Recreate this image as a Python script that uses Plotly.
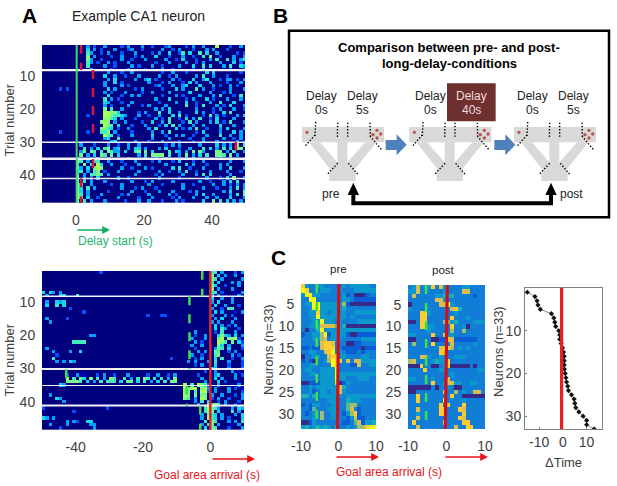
import plotly.graph_objects as go

# ---------- data ----------
trial_ticks = [10, 20, 30, 40]
a1_ticks = [0, 20, 40]
a2_ticks = [-40, -20, 0]
neuron_ticks = [5, 10, 15, 20, 25, 30]
c_x_ticks = [-10, 0, 10]
c3_y_ticks = [10, 20, 30]

# Panel A top, one row per trial, t = 0..49, level per 1 s bin ('.' = none)
a1_rows = [
"...3.2..3....2.3...3..2...23....2.3..3...7...2..3.",
"...4.3.2...3...23..2.....3..2.3...2...3.3...2.....",
"...53..2.3...2...3....2.3..4..25.4..5.4..3.....2.2",
"...6.3....2..3...2.3...4...2...3..2..5.6..2...3..3",
"...63..2.....3..2...3.....3..2.4...2...3.5..5.3.35",
"...53.2..3.2...3.......2...3....3..2.3....3...4.2.",
"...5....3..2....3.2...3..2....3...4..5.4...3.5..43",
"....3.....2....3....2....3..2.....2..3.......2...2",
".........3...2..3........2..3...2.....4.4.......2.",
"........4..3..2...3.....3..2.3.....3.5..3...2.....",
".........3.4.....3..34.2....3.2...4..35...2.33.2.3",
"........3..4.2.......3...2.3...2.4.3...3....2...3.",
"........3....3.2.......23...3..34...4...3.2..3.2..",
".........4.3.....2.3.....2...4.3...5.3..2....3...3",
"........3.2...3....2..3....3.....4.....3...2.3....",
".........4...2..3.3......2...3.2....3...3.4...2.5.",
"........5.3.2..........3...4....2.3...4.2...3...3.",
"........43...2..3.......2....3..4..2...3..5...4...",
"........3.2....3...2.3....3.....5..2.5...3.2.4...3",
"........6.5..3.........3.3.4.......3....2.3...3..2",
"........77664.....2.3...5..4..3....4.3..2..4.5...",
"...2....7765543...3..2..3...4.5.2....2.5.3.2...3.4",
"........6754.3...2.....3.2.5..2.4.3.5..2.4....3..",
".......676.3..3....2..4..3.5...2.5.3...3.4.2.5...3",
"........765.4...2...3...2.4.5.3...3..3....4...3..",
".......6654.2..3.....3.5.....4.2.3.5..2...3.4....3",
"...2...556.3....2.....3..3.5.......2.4....3...4.3.",
"........755.2...3.....4...2..3.3..2...3...5..3..3.",
"........34..5.........3....3.....2...3.....3..2.3.",
"..........34.....3...2...3....2...2..3...3.....3.2",
".3...2...3..2..3..3.......2.3.3.....3....4.3.3.6.5",
"..5.3.4.56.34..3.44.3...3.4...2..3...5.4.3.5.4.66.",
".36.65.5.6533.4..56.6.4....5.43.3.6.63...66.3.5..3",
".6.3.4.65.6.4.....3.5.6666.5..3.6.3.4.5..665.6.3..",
"3...2.3..3.....3....3..2..3.....2.3.......2..3...2",
"65.3.55..3...2...3....2.3...2.4...2..3.......3...3",
"5.6.5.74..3...2...3.......3.....4.3...2...3.3.....",
"63.4.676.....3..2...3.2.....4.5..2...3....3..4...3",
"45.3.56.2...3.....3.....3..2..3.5..2...3....3...2.",
"5.3.5565.3.......3.....2.3.....3...3.5.4.....3....",
"6.3.3.4.....3..2........3.....2.......3...2.4.6..3",
"6.5.3...3.......3...2.3.....3.......3..2...3.4.5..",
"65..3.....2..3.......3...2.....3..2.....3..3.2.3.3",
"64.5.3.......3...2.3...2.......3.....3...2...3.5.3",
"74.3.....2......3...2...3...3....2.3.......3.4...6",
"75.3...3.....2.3.....3.....3.2.....3.4..3....3.5.6",
"75.4..2.....3.....2...3.....2.3...3...3..3...4...3",
"6.5.3...3.....2...3..3...2...3.2.....4..6.5.4.3.3.",
]
# spikes before delay start: (trial, t, level)
a1_pre = [(14, -5, 2), (14, -3, 2), (27, -5, 2)]

# Panel A bottom, t = -8..9 per trial
a2_right = [
"........55.3...2.3", "........6.4.3..3..", "........65.3.....3", "........5.4...3.3.",
"........64..2...3.", "........6.3...3...", "........55.2...1.3", "........4.3.1...3.",
"........4..3..3...", "........3.4...3...", ".........4..3...2.", "........3..2.55...",
".........4.3...1.3", "........3...3.2...", ".........3.4...3..", "........3.3...3...",
".........4.3.2.3..", ".........4.53...2.", "...3.....2.5...3..", "...2..3...4643.4.3",
"..3...3...67.6672.", "...3.2....765.6.42", "..3..3....64.3...3", "...2.....365.4...2",
"....3.3..65..2.3..", "..3..2...56...3.2.", "...2.3...4.5..2..3", ".3.3...3.5...3...2",
"...2.3...4...2...2", "........43...3...3", "......2..3....3.1.", "....2....34....3.2",
".....3...4.3...3..", "......3...4.2...1.", "7.5.7652..3...1.3.", "7677.673.3...3.2.1",
"66.5.772.3...3...2", "76.6.66.3..3...2.3", "65.3.76.2.3..2...3", "...3.5.4..2.3...2.",
"....3..6575.3..2..", "......57653...3.43", "......566.4...5.3.", ".....3.654.3...3.4",
".....3.754.3.2...4", "......5.65...3.3.5", ".....3.56.3...1.3.", "......4.65...2...3",
]
# Panel A bottom, rows 32-34: t = -50..-9
a2_burst = {
 32: ".......2..3.1...2.3..2...3.....2..3..2.3.",
 33: ".......7.5.64.6.5.3.65..5.3.5.65.5.5.3.6",
 34: ".......66665.4.3.5.555.4.66.4.5.3.4.5.66",
}
# Panel A bottom, other spikes at t < -8: (trial, t, level)
a2_left = [
 (1, -33, 2), (7, -50, 4), (7, -48, 4), (7, -47, 3), (7, -45, 3), (8, -49, 3),
 (8, -45, 4), (8, -44, 4), (8, -40, 5), (10, -49, 3), (11, -49, 4), (10, -46, 4),
 (10, -45, 3), (10, -44, 4), (11, -46, 5), (11, -44, 4), (12, -42, 2), (13, -38, 2),
 (14, -19, 2), (14, -15, 2), (14, -14, 2), (15, -49, 3), (15, -43, 2), (16, -48, 3),
 (20, -36, 3), (20, -35, 3), (22, -41, 5), (22, -40, 5), (22, -39, 5), (22, -38, 5),
 (24, -49, 3), (25, -47, 3), (25, -39, 4), (25, -42, 3), (26, -46, 2), (27, -47, 5),
 (27, -12, 2), (28, -46, 3), (28, -44, 3), (28, -42, 4), (28, -41, 3), (35, -45, 4),
 (35, -44, 3), (38, -48, 3), (39, -46, 4), (39, -45, 3), (40, -44, 3), (42, -31, 2),
 (43, -41, 2), (45, -50, 4), (45, -49, 3), (45, -47, 3), (46, -43, 3), (46, -41, 3),
 (46, -40, 2), (46, -37, 4), (46, -36, 4), (47, -48, 3), (47, -43, 3), (47, -36, 3),
 (48, -45, 2), (48, -35, 3), (42, -50, 2), (47, -35, 3),
]

# Panel C left and middle, neuron rows, t = -10..9, levels 0-9
c1_rows = [
"83223322222323333322", "98222333223222333333", "39933222222312000122",
"22992222222332111111", "23399333333610000000", "22399333333422222222",
"22338332333322333333", "22339333333323222222", "22233933323222233333",
"22334777753400000000", "20224923333333333333", "12233691333310011111",
"22233672333222223333", "22222788722200112222", "11211788822111110111",
"22332278923211121222", "02233227883322223322", "12102236988272773333",
"22332222982221172233", "23322333392222222222", "22332333393333333333",
"22222333393322233322", "00111333380132222222", "22323333337422222222",
"22312332337322222222", "44242333333233333333", "22222223332243332222",
"12133222332256622222", "22152223332257212222", "21232622332136812222",
"22232622332213711222", "00132222222112571334", "34234343252232366899",
]
c2_rows = [
"23723382732222332222", "33722222232222772222", "27222223344422222122",
"22222227732222222222", "02222222779322222222", "32222222222784222222",
"22288322222232222222", "22288222222822232222", "00288222266342222333",
"22288332222822302222", "22222322222622622222", "33222282273322222222",
"00222200118711111122", "26222282222722222322", "22222222788623232222",
"22222222882222222222", "22277322332233322222", "67222234338222222222",
"00082200238000002022", "22228222332222222233", "22222222222322222222",
"33222232227222222222", "22222282237733223322", "00000020223200222222",
"00222222282262322772", "22822222222822000000", "22822222282222322222",
"22222222828222822222", "22722222882228722222", "22322222882222822222",
"22722222222228722222", "28222222282222882222", "22722222222272288222",
]
c1_x = [t + 0.5 for t in range(-10, 10)]

# Panel C right, time shift per neuron
delta_time = [-15.0, -11.8, -10.9, -10.5, -9.5, -4.8, -3.8, -3.4, -3.0, -1.7, -1.3, -1.3,
              -0.7, -0.1, 0.3, 0.6, 0.6, 0.6, 0.7, 1.0, 1.3, 1.6, 2.1, 2.4, 3.7, 4.8, 5.1,
              5.5, 6.8, 8.6, 10.1, 10.1, 13.3]
neurons = list(range(1, 34))

# Delay boundaries, panel A: (trial from, trial to, t)
a1_delay_marks = [(0.5, 8.2, 1.5), (8.2, 30, 5), (30, 35.2, 47), (35.2, 41, 5), (41, 48.5, 1.5)]
a2_delay_marks = [(0.5, 8.2, -2.4), (8.2, 30.2, -6.2), (30.2, 35.2, -42.8), (35.2, 41.2, -7), (41.2, 48.5, -3)]
block_lines = [8.2, 30.1, 35.1, 41.1]
a1_line_widths = [2.2, 1.5, 2.5, 1.5]
a2_line_widths = [1.5, 2, 1.2, 2]

# ---------- helpers ----------
W, H = 617, 486
GREY = "#404040"
FONT = "Liberation Sans"
JET = [[0, "#00007f"], [0.11, "#0000e0"], [0.2, "#0050ff"], [0.36, "#00d0ff"], [0.62, "#80ff80"], [0.86, "#ffff00"], [1, "#ff8000"]]
PARULA = [[0, "#352a87"], [0.125, "#0363e1"], [0.25, "#1484d4"], [0.375, "#06a4ca"], [0.5, "#2eb7a4"],
          [0.625, "#87bf77"], [0.75, "#d1bb59"], [0.875, "#fec832"], [1, "#f9fb0e"]]


def X(p):
    return p / W


def Y(p):
    return 1 - p / H


def parse(rows, n):
    out = []
    for r in rows:
        r = (r + "." * n)[:n]
        out.append([0 if c == "." else int(c) for c in r])
    return out


fig = go.Figure()


def set_axes(i, x0, x1, y0, y1, xr, yr, xt, yt, line=False, size=14):
    sx = "" if i == 1 else str(i)
    xa = dict(domain=[X(x0), X(x1)], range=xr, tickvals=xt, ticktext=[str(v) for v in xt],
              tickfont=dict(family=FONT, size=size, color=GREY),
              ticks="outside", ticklen=4, tickcolor="rgba(0,0,0,0)", showgrid=False, zeroline=False, automargin=False,
              anchor="y" + sx, showline=line, linecolor="#808080", mirror=line)
    ya = dict(domain=[Y(y1), Y(y0)], range=yr, tickvals=yt, ticktext=[str(v) for v in yt],
              tickfont=dict(family=FONT, size=size, color=GREY),
              ticks="outside", ticklen=3, tickcolor="rgba(0,0,0,0)", showgrid=False, zeroline=False, automargin=False,
              anchor="x" + sx, showline=line, linecolor="#808080", mirror=line)
    fig.update_layout({"xaxis" + sx: xa, "yaxis" + sx: ya})


def vseg(i, x, y0, y1, color, width, dash="solid", x2=None):
    sx = "" if i == 1 else str(i)
    fig.add_shape(type="line", xref="x" + sx, yref="y" + sx, x0=x, x1=x if x2 is None else x2, y0=y0, y1=y1,
                  line=dict(color=color, width=width, dash=dash), layer="above")


def text(px, py, s, size=13, color="black", bold=False, angle=0, anchor="center"):
    fig.add_annotation(xref="paper", yref="paper", x=X(px), y=Y(py), text=f"<b>{s}</b>" if bold else s,
                       showarrow=False, xanchor=anchor, yanchor="middle", textangle=angle,
                       font=dict(family=FONT, size=size, color=color))


def arrow(x0, x1, py, color):
    fig.add_annotation(xref="paper", yref="paper", axref="pixel", ayref="pixel", x=X(x1), y=Y(py), ax=x0 - x1, ay=0,
                       text="", showarrow=True, arrowcolor=color, arrowwidth=1.3, arrowhead=2, arrowsize=1.2)


# ---------- panel A top ----------
a1_z = [[0] * 10 + r for r in parse(a1_rows, 50)]
for tr, t, lv in a1_pre:
    a1_z[tr - 1][t + 10] = lv
fig.add_trace(go.Heatmap(z=a1_z, x=[t + 0.5 for t in range(-10, 50)], y=list(range(1, 49)), colorscale=JET,
                         zmin=0, zmax=10, showscale=False, xaxis="x", yaxis="y"))
set_axes(1, 42, 245, 45, 203, [-10, 49.7], [48.5, 0.6], a1_ticks, trial_ticks)

# ---------- panel A bottom ----------
a2_z = [[0] * 42 + r for r in parse(a2_right, 18)]
for tr, s in a2_burst.items():
    for j, v in enumerate(parse([s], 42)[0]):
        a2_z[tr - 1][j] = v
for tr, t, lv in a2_left:
    a2_z[tr - 1][t + 50] = lv
fig.add_trace(go.Heatmap(z=a2_z, x=[t + 0.5 for t in range(-50, 10)], y=list(range(1, 49)), colorscale=JET,
                         zmin=0, zmax=10, showscale=False, xaxis="x2", yaxis="y2"))
set_axes(2, 42, 244, 271, 430, [-50, 10], [48.5, 0.6], a2_ticks, trial_ticks)

for y, w1, w2 in zip(block_lines, a1_line_widths, a2_line_widths):
    fig.add_shape(type="line", xref="x", yref="y", x0=-10, x1=49.7, y0=y, y1=y,
                  line=dict(color="#f0f0f5", width=w1), layer="above")
    fig.add_shape(type="line", xref="x2", yref="y2", x0=-50, x1=10, y0=y, y1=y,
                  line=dict(color="#f0f0f5", width=w2), layer="above")
vseg(1, 0.2, 0.6, 48.5, "#3ddc6a", 2)
for y0, y1, t in a1_delay_marks:
    vseg(1, t, y0, y1, "#d8143c", 2.5, "dash")
vseg(2, 0, 0.6, 48.5, "#e0202c", 2.5)
for y0, y1, t in a2_delay_marks:
    vseg(2, t, y0, y1, "#3ddc50", 2.5, "dash")

# ---------- panel C ----------
fig.add_trace(go.Heatmap(z=[[int(c) for c in r] for r in c1_rows], x=c1_x, y=neurons, colorscale=PARULA,
                         zmin=0, zmax=9, showscale=False, xaxis="x3", yaxis="y3"))
set_axes(3, 301, 376, 284, 429, [-10, 10], [33.5, 0.5], c_x_ticks, neuron_ticks)
fig.add_trace(go.Heatmap(z=[[int(c) for c in r] for r in c2_rows], x=c1_x, y=neurons, colorscale=PARULA,
                         zmin=0, zmax=9, showscale=False, xaxis="x4", yaxis="y4"))
set_axes(4, 408, 485, 285, 429, [-10, 10], [33.5, 0.5], c_x_ticks, neuron_ticks)
vseg(3, -5.8, 0.5, 33.5, "#3ee04a", 2.5, "dash")
vseg(3, 0.1, 0.5, 33.5, "#cc1020", 3.2, x2=-0.3)
vseg(4, -5.3, 0.5, 33.5, "#3ee04a", 2.5, "dash")
vseg(4, 0.2, 0.5, 33.5, "#cc1020", 3.2, x2=-0.3)

fig.add_trace(go.Scatter(x=delta_time, y=neurons, mode="lines+markers", line=dict(color="#707070", width=0.8),
                         marker=dict(symbol="diamond", size=4, color="#111111"), xaxis="x5", yaxis="y5",
                         showlegend=False))
set_axes(5, 525, 602, 288, 429, [-16, 16.6], [33, 0], [-10, 0, 10], c3_y_ticks, line=True)
vseg(5, -0.5, 0, 33, "#ee1c25", 3.2)
fig.update_layout(xaxis5=dict(ticks="inside", ticklen=2, tickcolor="#808080"),
                  yaxis5=dict(ticks="inside", ticklen=2, tickcolor="#808080"))

# ---------- texts and arrows ----------
text(29, 16, "A", 21, bold=True)
text(280, 16, "B", 21, bold=True)
text(278, 257, "C", 21, bold=True)
text(138, 16, "Example CA1 neuron", 14, color="#222222")
text(8.5, 120, "Trial number", 13, GREY, angle=-90)
text(8.5, 360, "Trial number", 13, GREY, angle=-90)
arrow(76, 110, 230, "#10b060")
text(76, 241, "Delay start (s)", 12, "#1db56b", anchor="left")
arrow(211, 255, 459, "#e8141c")
text(207, 475, "Goal area arrival (s)", 12, "#e8141c")
text(338, 269, "pre", 11.5, "#222222")
text(443, 270, "post", 11.5, "#222222")
text(268, 350, "Neurons (n=33)", 13, GREY, angle=-90)
text(498, 352, "Neurons (n=33)", 13, GREY, angle=-90)
text(563, 462, "\u0394Time", 13, GREY)
arrow(335, 379, 457, "#e8141c")
arrow(444, 488, 457, "#e8141c")
text(389, 472, "Goal area arrival (s)", 12, "#e8141c")

# ---------- panel B schematic ----------


def cx(c):
    return X(265 + c / 3)


def cy(c):
    return Y(c / 3)


def poly(pts, color):
    d = "M" + " L".join(f"{cx(a)},{cy(b)}" for a, b in pts) + " Z"
    fig.add_shape(type="path", xref="paper", yref="paper", path=d, fillcolor=color, line=dict(width=0))


def dotted(x0, y0, x1, y1):
    fig.add_shape(type="line", xref="paper", yref="paper", x0=cx(x0), y0=cy(y0), x1=cx(x1), y1=cy(y1),
                  line=dict(color="black", width=1.4, dash="1.4px,1.8px"))


def dot(a, b, r=5):
    fig.add_shape(type="circle", xref="paper", yref="paper", x0=cx(a - r), x1=cx(a + r), y0=cy(b + r), y1=cy(b - r),
                  fillcolor="#c0504d", line=dict(width=0))


fig.add_shape(type="rect", xref="paper", yref="paper", x0=cx(72), x1=cx(1032), y0=cy(652), y1=cy(92),
              line=dict(color="black", width=2.5))
text(449, 47, "Comparison between pre- and post-", 13, bold=True)
text(449, 63, "long-delay-conditions", 13, bold=True)
fig.add_shape(type="rect", xref="paper", yref="paper", x0=cx(546), x1=cx(692), y0=cy(364), y1=cy(250),
              fillcolor="#6f3030", line=dict(width=0))

MAZE_GREY = "#d9d9d9"
for dx in [0, 322, 636]:
    poly([(111 + dx, 381), (357 + dx, 381), (357 + dx, 427), (111 + dx, 427)], MAZE_GREY)
    poly([(217 + dx, 381), (247 + dx, 381), (247 + dx, 505), (217 + dx, 505)], MAZE_GREY)
    poly([(132 + dx, 427), (165 + dx, 427), (232 + dx, 505), (205 + dx, 520)], MAZE_GREY)
    poly([(300 + dx, 427), (334 + dx, 427), (260 + dx, 520), (232 + dx, 505)], MAZE_GREY)
    poly([(215 + dx, 490), (250 + dx, 490), (272 + dx, 515), (272 + dx, 543), (193 + dx, 543), (193 + dx, 515)], MAZE_GREY)
    dotted(152 + dx, 366, 150 + dx, 408)
    dotted(218 + dx, 368, 217 + dx, 415)
    dotted(248 + dx, 368, 248 + dx, 415)
    dotted(315 + dx, 368, 316 + dx, 408)
    dotted(150 + dx, 405, 118 + dx, 441)
    dotted(315 + dx, 408, 352 + dx, 452)
    dotted(218 + dx, 490, 187 + dx, 523)
    dotted(250 + dx, 490, 280 + dx, 525)
    dot(126 + dx, 397)
    for a, b in [(336, 391), (324, 404), (347, 402), (336, 414)]:
        dot(a + dx, b, 5)

for dx in [0, 326]:
    poly([(362 + dx, 420), (395 + dx, 420), (395 + dx, 403), (425 + dx, 434), (395 + dx, 466), (395 + dx, 450), (362 + dx, 450)], "#4f81bd")

for c_x, label in [(170, "0s"), (291, "5s"), (495, "0s"), (803, "0s"), (925, "5s")]:
    text(265 + c_x / 3, 96, "Delay", 12, "#222222")
    text(265 + c_x / 3, 110, label, 12, "#222222")
text(265 + 619 / 3, 96, "Delay", 12, "#f0dcdc")
text(265 + 619 / 3, 110, "40s", 12, "#f0dcdc")
text(265 + 199 / 3, 194.5, "pre", 12, "#222222")
text(265 + 918 / 3, 194.5, "post", 12, "#222222")

fig.add_shape(type="path", xref="paper", yref="paper",
              path=f"M{cx(265)},{cy(580)} L{cx(265)},{cy(610)} L{cx(858)},{cy(610)} L{cx(858)},{cy(580)}",
              line=dict(color="black", width=4))
for a in [265, 858]:
    poly([(a, 548), (a + 17, 585), (a - 17, 585)], "black")

fig.update_layout(template="none", width=W, height=H, margin=dict(l=0, r=0, t=0, b=0), paper_bgcolor="white",
                  plot_bgcolor="white", showlegend=False, autosize=False)
fig.write_html("out.html", config={"displayModeBar": False},
               post_script="document.body.style.margin='0';document.body.style.overflow='hidden';")
